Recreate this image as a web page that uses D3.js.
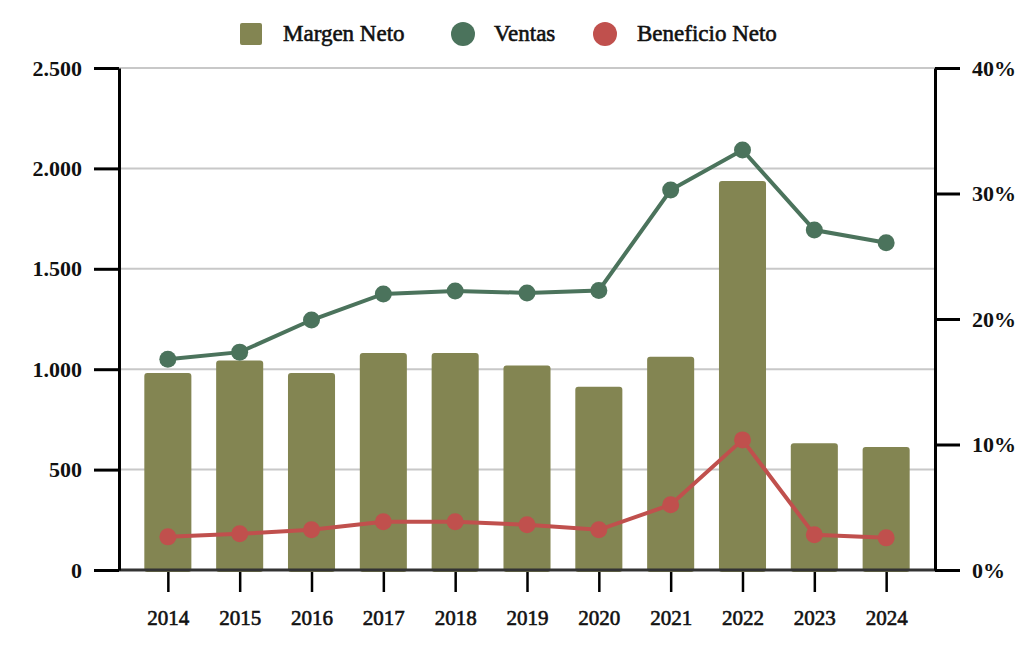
<!DOCTYPE html>
<html>
<head>
<meta charset="utf-8">
<script src="https://cdn.jsdelivr.net/npm/d3@7"></script>
<style>
    body { margin: 0; background: #fff; }
    svg text { font-family: "Liberation Serif", "DejaVu Serif", serif; fill: #111; }
</style>
</head>
<body>
<svg width="1024" height="648"></svg>
<script>
const years = ["2014", "2015", "2016", "2017", "2018", "2019", "2020", "2021", "2022", "2023", "2024"]
// Margen Neto in %, right axis
const margen = [15.7, 16.7, 15.7, 17.3, 17.3, 16.3, 14.6, 17.0, 31.0, 10.1, 9.8]
// Ventas and Beneficio Neto, left axis
const ventas = [1050, 1085, 1245, 1375, 1390, 1380, 1392, 1892, 2092, 1693, 1630]
const beneficio = [165, 180, 200, 240, 240, 225, 200, 325, 648, 175, 160]
const left_ticks = [0, 500, 1000, 1500, 2000, 2500]
const right_ticks = [0, 10, 20, 30, 40]

const colors = {margen: "#838552", ventas: "#4b735c", beneficio: "#c0504d"}
const font = "'Liberation Serif', 'DejaVu Serif', serif"

const svg = d3.select("svg")
const margin = {left: 119, right: 89, top: 68, bottom: 78}
const width = 1024 - margin.left - margin.right
const height = 648 - margin.top - margin.bottom

const x = d3.scalePoint().domain(years).range([0, width]).padding(0.68)
const yl = d3.scaleLinear().domain([0, 2500]).range([height, 0])
const yr = d3.scaleLinear().domain([0, 40]).range([height, 0])

const g = svg.append("g").attr("transform", `translate(${margin.left},${margin.top})`)

// Gridlines
g.append("g")
    .selectAll("line")
    .data(left_ticks.slice(1))
    .enter()
    .append("line")
    .attr("x1", 0).attr("x2", width)
    .attr("y1", d => yl(d)).attr("y2", d => yl(d))
    .attr("stroke", "#c8c8c8").attr("stroke-width", 2)

// Bars
const bw = x.step() * 0.655
g.append("g")
    .selectAll("rect")
    .data(margen)
    .enter()
    .append("rect")
    .attr("x", (d, i) => x(years[i]) - bw / 2)
    .attr("y", d => yr(d))
    .attr("width", bw)
    .attr("height", d => height - yr(d) + 2)
    .attr("rx", 3)
    .attr("fill", colors.margen)

// Lines
const draw_series = (values, color) => {
    const line = d3.line().x((d, i) => x(years[i])).y(d => yl(d))
    g.append("path")
        .datum(values)
        .attr("d", line)
        .attr("fill", "none")
        .attr("stroke", color)
        .attr("stroke-width", 4)
    g.append("g")
        .selectAll("circle")
        .data(values)
        .enter()
        .append("circle")
        .attr("cx", (d, i) => x(years[i]))
        .attr("cy", d => yl(d))
        .attr("r", 8.5)
        .attr("fill", color)
}
draw_series(beneficio, colors.beneficio)
draw_series(ventas, colors.ventas)

// Bottom baseline
g.append("line")
    .attr("x1", 0).attr("x2", width)
    .attr("y1", height).attr("y2", height)
    .attr("stroke", "#333").attr("stroke-width", 3)

// Axes
const style_axis = (sel, size) => {
    sel.attr("font-family", null)
    sel.select(".domain").attr("stroke", "#000").attr("stroke-width", 3)
    sel.selectAll(".tick line").attr("stroke", "#000").attr("stroke-width", 3)
    sel.selectAll(".tick text")
        .style("font-family", font)
        .attr("font-size", size)
        .attr("font-weight", "bold")
        .attr("fill", "#111")
}

g.append("g")
    .call(d3.axisLeft(yl).tickValues(left_ticks).tickSize(25).tickSizeOuter(0).tickPadding(12)
        .tickFormat(d => d3.format(",")(d).replace(/,/g, ".")))
    .call(sel => style_axis(sel, 22))

g.append("g")
    .attr("transform", `translate(${width},0)`)
    .call(d3.axisRight(yr).tickValues(right_ticks).tickSize(25).tickSizeOuter(0).tickPadding(12)
        .tickFormat(d => d + "%"))
    .call(sel => style_axis(sel, 22))

const xa = g.append("g")
    .attr("transform", `translate(0,${height + 2})`)
    .call(d3.axisBottom(x).tickSize(20).tickSizeOuter(0).tickPadding(18))
    .call(sel => style_axis(sel, 21))
xa.select(".domain").remove()
xa.selectAll(".tick line").attr("stroke-width", 2.5)
xa.selectAll(".tick text").attr("font-weight", "normal").attr("stroke", "#111").attr("stroke-width", 0.6)

// Legend
const legend = svg.append("g").attr("transform", "translate(0,34)")
legend.append("rect")
    .attr("x", 240).attr("y", -11).attr("width", 22).attr("height", 22).attr("rx", 2)
    .attr("fill", colors.margen)
legend.append("circle").attr("cx", 463).attr("cy", 0).attr("r", 12).attr("fill", colors.ventas)
legend.append("circle").attr("cx", 605).attr("cy", 0).attr("r", 12).attr("fill", colors.beneficio)
legend.selectAll("text.lbl")
    .data([["Margen Neto", 283], ["Ventas", 494], ["Beneficio Neto", 637]])
    .enter()
    .append("text")
    .attr("x", d => d[1])
    .attr("y", 7)
    .style("font-family", font)
    .attr("font-size", 23)
    .attr("stroke", "#111")
    .attr("stroke-width", 0.6)
    .text(d => d[0])
</script>
</body>
</html>
